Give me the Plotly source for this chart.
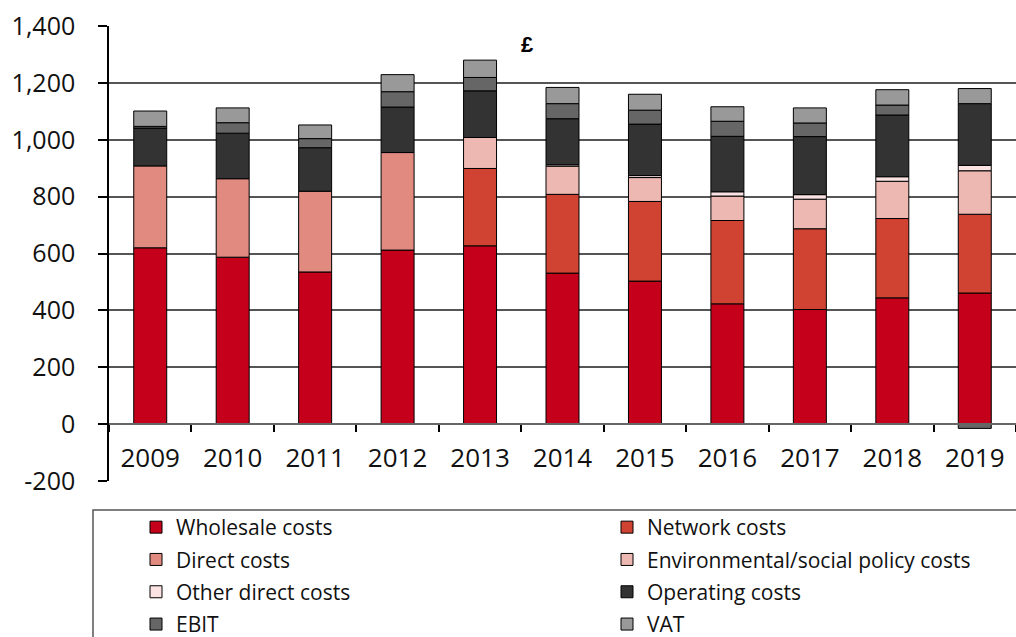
import plotly.graph_objects as go

years = ["2009", "2010", "2011", "2012", "2013", "2014", "2015", "2016", "2017", "2018", "2019"]
wholesale = [620, 587, 535, 612, 627, 531, 503, 423, 403, 444, 461]
network = [None, None, None, None, 272, 277, 280, 293, 284, 279, 277]
direct = [288, 276, 284, 343, None, None, None, None, None, None, None]
env_social = [None, None, None, None, 109, 99, 84, 86, 104, 131, 153]
other_direct = [None, None, None, None, None, 5, 7, 15, 16, 16, 19]
operating = [133, 160, 153, 160, 164, 162, 181, 195, 204, 217, 217]
ebit = [6, 37, 32, 54, 47, 53, 49, 53, 48, 35, -15]
vat = [54, 52, 48, 60, 61, 57, 56, 51, 53, 54, 53]

y_tickvals = [-200, 0, 200, 400, 600, 800, 1000, 1200, 1400]
y_ticktext = ["-200", "0", "200", "400", "600", "800", "1,000", "1,200", "1,400"]

series = [
    ("Wholesale costs", wholesale, "#C4001A", "legend"),
    ("Network costs", network, "#D04332", "legend2"),
    ("Direct costs", direct, "#E08A80", "legend"),
    ("Environmental/social policy costs", env_social, "#EDB8B2", "legend2"),
    ("Other direct costs", other_direct, "#FBE3E3", "legend"),
    ("Operating costs", operating, "#333333", "legend2"),
    ("EBIT", ebit, "#666666", "legend"),
    ("VAT", vat, "#999999", "legend2"),
]

FONT = "Open Sans"

fig = go.Figure()
for name, vals, color, lg in series:
    fig.add_trace(go.Bar(
        x=years, y=vals, name=name, width=0.4,
        marker=dict(color=color, line=dict(color="#000000", width=1)),
        legend=lg, legendgroup=name,
    ))

W, H = 1016, 637
L, R, T, B = 109, 0, 26, 156
pw = W - L - R
ph = H - T - B

def px(xp):
    return (xp - L) / pw

def py(yp):
    return (H - B - yp) / ph

legend_common = dict(
    orientation="v", traceorder="grouped", tracegroupgap=2,
    font=dict(family=FONT, size=21, color="#111111"),
    bgcolor="rgba(0,0,0,0)", borderwidth=0,
    xanchor="left", yanchor="top", xref="container", yref="container",
)

fig.update_layout(
    width=W, height=H,
    margin=dict(l=L, r=R, t=T, b=B, autoexpand=False),
    barmode="relative",
    plot_bgcolor="white", paper_bgcolor="white",
    font=dict(family=FONT, color="#111111"),
    showlegend=True,
    legend=dict(x=136 / W, y=1 - 507 / H, **legend_common),
    legend2=dict(x=607 / W, y=1 - 507 / H, **legend_common),
    xaxis=dict(
        type="category", anchor="free", position=0.125, automargin=False,
        showline=True, linecolor="#666666", linewidth=1.5,
        ticks="outside", tickson="boundaries", ticklen=7, tickcolor="#000000", tickwidth=1.5,
        tickfont=dict(family=FONT, size=26, color="#111111"),
        ticklabelstandoff=11,
        showgrid=False, zeroline=False,
    ),
    yaxis=dict(
        range=[-200, 1400], tickvals=y_tickvals, ticktext=y_ticktext, automargin=False,
        showline=True, linecolor="#000000", linewidth=1.5,
        ticks="outside", ticklen=9, tickcolor="#000000", tickwidth=1.5,
        tickfont=dict(family=FONT, size=25, color="#111111"),
        ticklabelstandoff=18,
        showgrid=True, gridcolor="#555555", gridwidth=1.5,
        zeroline=False,
    ),
    shapes=[
        dict(type="rect", xref="paper", yref="paper",
             x0=px(93), x1=px(1030), y0=py(510), y1=py(660),
             line=dict(color="#555555", width=1.5), fillcolor="rgba(0,0,0,0)", layer="below"),
    ],
    annotations=[
        dict(text="<b>£</b>", xref="paper", yref="paper", x=px(527.5), y=py(44.5),
             showarrow=False, xanchor="center", yanchor="middle",
             font=dict(family="Liberation Sans", size=22, color="#000000")),
    ],
)

fig.write_html("out.html", config={"displayModeBar": False},
               post_script="document.body.style.margin='0';")
